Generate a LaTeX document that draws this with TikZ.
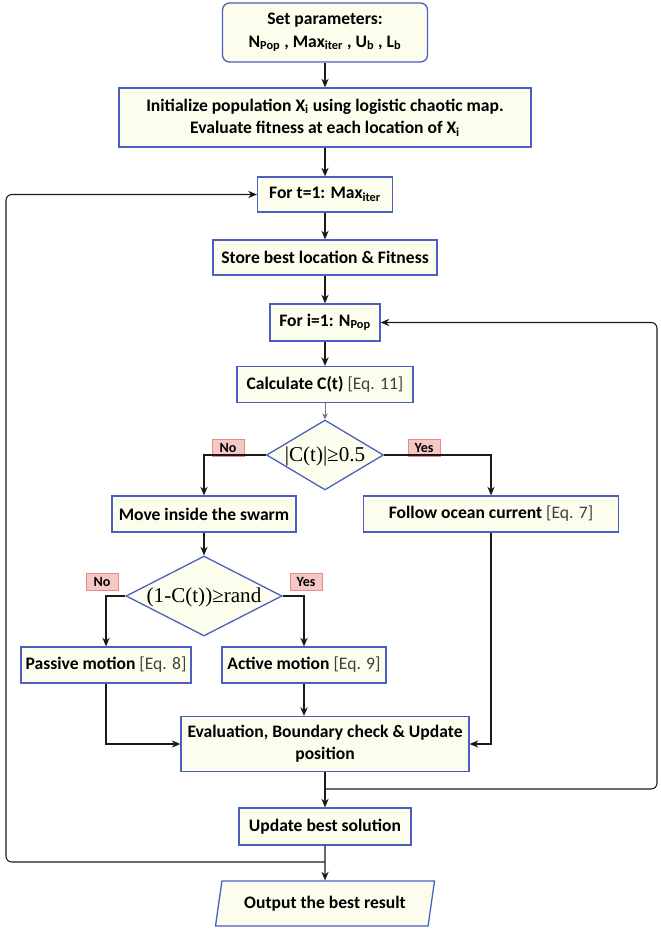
\documentclass[tikz,border=0pt]{standalone}
\usepackage{fontspec}
\setmainfont{Carlito}
\newfontfamily\condserif{Liberation Serif}
\usepackage{xcolor}
\definecolor{FlowBlue}{HTML}{4A5FC1}
\definecolor{FlowCream}{HTML}{FDFDEE}
\definecolor{FlowPink}{HTML}{F7C7C5}
\definecolor{FlowRose}{HTML}{E38C8A}
\definecolor{FlowInk}{HTML}{1A1A1A}
\usepackage{tikz}
\usetikzlibrary{positioning,arrows.meta,shapes.geometric,calc}
\tikzset{
  sbox/.style={draw=FlowBlue,fill=FlowCream,line width=1.1pt,align=center,inner sep=2pt,font=\fontsize{15}{19}\selectfont\bfseries,minimum height=1.08cm},
  sdiamond/.style={diamond,draw=FlowBlue,fill=FlowCream,line width=1.1pt,inner sep=0pt,font=\condserif\fontsize{18}{20}\selectfont},
  soutput/.style={trapezium,trapezium left angle=72,trapezium right angle=108,trapezium stretches body=true,draw=FlowBlue,fill=FlowCream,line width=1.1pt,inner sep=2pt,font=\fontsize{15}{19}\selectfont\bfseries},
  stag/.style={draw=FlowRose,fill=FlowPink,line width=0.6pt,inner sep=0pt,minimum width=0.96cm,minimum height=0.51cm,font=\fontsize{12}{14}\selectfont\bfseries},
  sflow/.style={-{Stealth[length=2.6mm,width=2.2mm]},draw=FlowInk,line width=0.9pt},
  sthinflow/.style={-{Stealth[length=1.8mm,width=1.6mm]},draw=black!55,line width=0.6pt},
  sloop/.style={-{Stealth[length=2.6mm,width=2.2mm]},draw=FlowInk,line width=0.9pt,rounded corners=5pt}
}
\newcommand{\eqnote}[1]{{\mdseries\color{black!75}[Eq. #1]}}
% keep the diamond at its own size, whatever the text
\newcommand{\slim}[1]{\smash{\makebox[0pt]{\raisebox{-0.33em}{#1}}}}

\begin{document}
\begin{tikzpicture}[x=0.03cm,y=-0.03cm]
  \useasboundingbox (0,0) rectangle (660,929);
  \node[sbox,rounded corners=6pt,minimum width=6.15cm,minimum height=1.77cm] (params) at (325,32.5) {Set parameters:\\N\textsubscript{Pop} , Max\textsubscript{iter} , U\textsubscript{b} , L\textsubscript{b}};
  \node[sbox,minimum width=12.36cm,minimum height=1.77cm] (init) at (325,117.5) {Initialize population X\textsubscript{i} using logistic chaotic map.\\Evaluate fitness at each location of X\textsubscript{i}};
  \node[sbox,minimum width=4.05cm,minimum height=1.05cm] (fort) at (325,194.5) {For t=1: Max\textsubscript{iter}};
  \node[sbox,minimum width=6.72cm,minimum height=1.05cm] (store) at (325,257.5) {Store best location \& Fitness};
  \node[sbox,minimum width=3.3cm,minimum height=1.11cm] (fori) at (325,322.5) {For i=1: N\textsubscript{Pop}};
  \node[sbox,minimum width=5.28cm] (calc) at (325,384.5) {Calculate C(t) \eqnote{11}};
  \node[sdiamond,minimum width=3.51cm,minimum height=2.1cm] (check) at (325,455) {\slim{|C(t)|≥0.5}};
  \node[sbox,minimum width=5.52cm] (move) at (204,514) {Move inside the swarm};
  \node[sbox,minimum width=7.65cm] (ocean) at (491,514) {Follow ocean current \eqnote{7}};
  \node[sdiamond,minimum width=4.68cm,minimum height=2.4cm] (chance) at (204,596) {\slim{(1-C(t))≥rand}};
  \node[sbox,minimum width=5.1cm] (passive) at (106,665) {Passive motion \eqnote{8}};
  \node[sbox,minimum width=4.92cm] (active) at (304,665) {Active motion \eqnote{9}};
  \node[sbox,minimum width=8.64cm,minimum height=1.65cm] (update) at (325,744) {Evaluation, Boundary check \& Update\\position};
  \node[sbox,minimum width=5.16cm,minimum height=1.11cm] (best) at (325,826.5) {Update best solution};
  \node[soutput,minimum width=6.57cm,minimum height=1.35cm] (result) at (325,903.5) {Output the best result};
  \node[stag] (no1) at (228,447.5) {No};
  \node[stag] (yes1) at (424,447.5) {Yes};
  \node[stag] (no2) at (102,581.5) {No};
  \node[stag] (yes2) at (306,581.5) {Yes};
  \coordinate (join1) at (325,789);
  \coordinate (join2) at (325,862);
  \coordinate (rightrail) at (657,789);
  \coordinate (leftrail) at (6,862);
  \draw[sflow] (params) -- (init);
  \draw[sflow] (init) -- (fort);
  \draw[sflow] (fort) -- (store);
  \draw[sflow] (store) -- (fori);
  \draw[sflow] (fori) -- (calc);
  \draw[sthinflow] (calc) -- (check);
  \draw[sflow] (check.west) -| (move.north);
  \draw[sflow] (check.east) -| (ocean.north);
  \draw[sflow] (move) -- (chance);
  \draw[sflow] (chance.west) -| (passive.north);
  \draw[sflow] (chance.east) -| (active.north);
  \draw[sflow] (passive.south) |- (update.west);
  \draw[sflow] (active.south) -- (active.south |- update.north);
  \draw[sflow] (ocean.south) |- (update.east);
  \draw[sflow] (update) -- (best);
  \draw[sflow] (best) -- (result);
  \draw[sloop] (join1) -- (rightrail) |- (fori.east);
  \draw[sloop] (join2) -- (leftrail) |- (fort.west);
\end{tikzpicture}
\end{document}
